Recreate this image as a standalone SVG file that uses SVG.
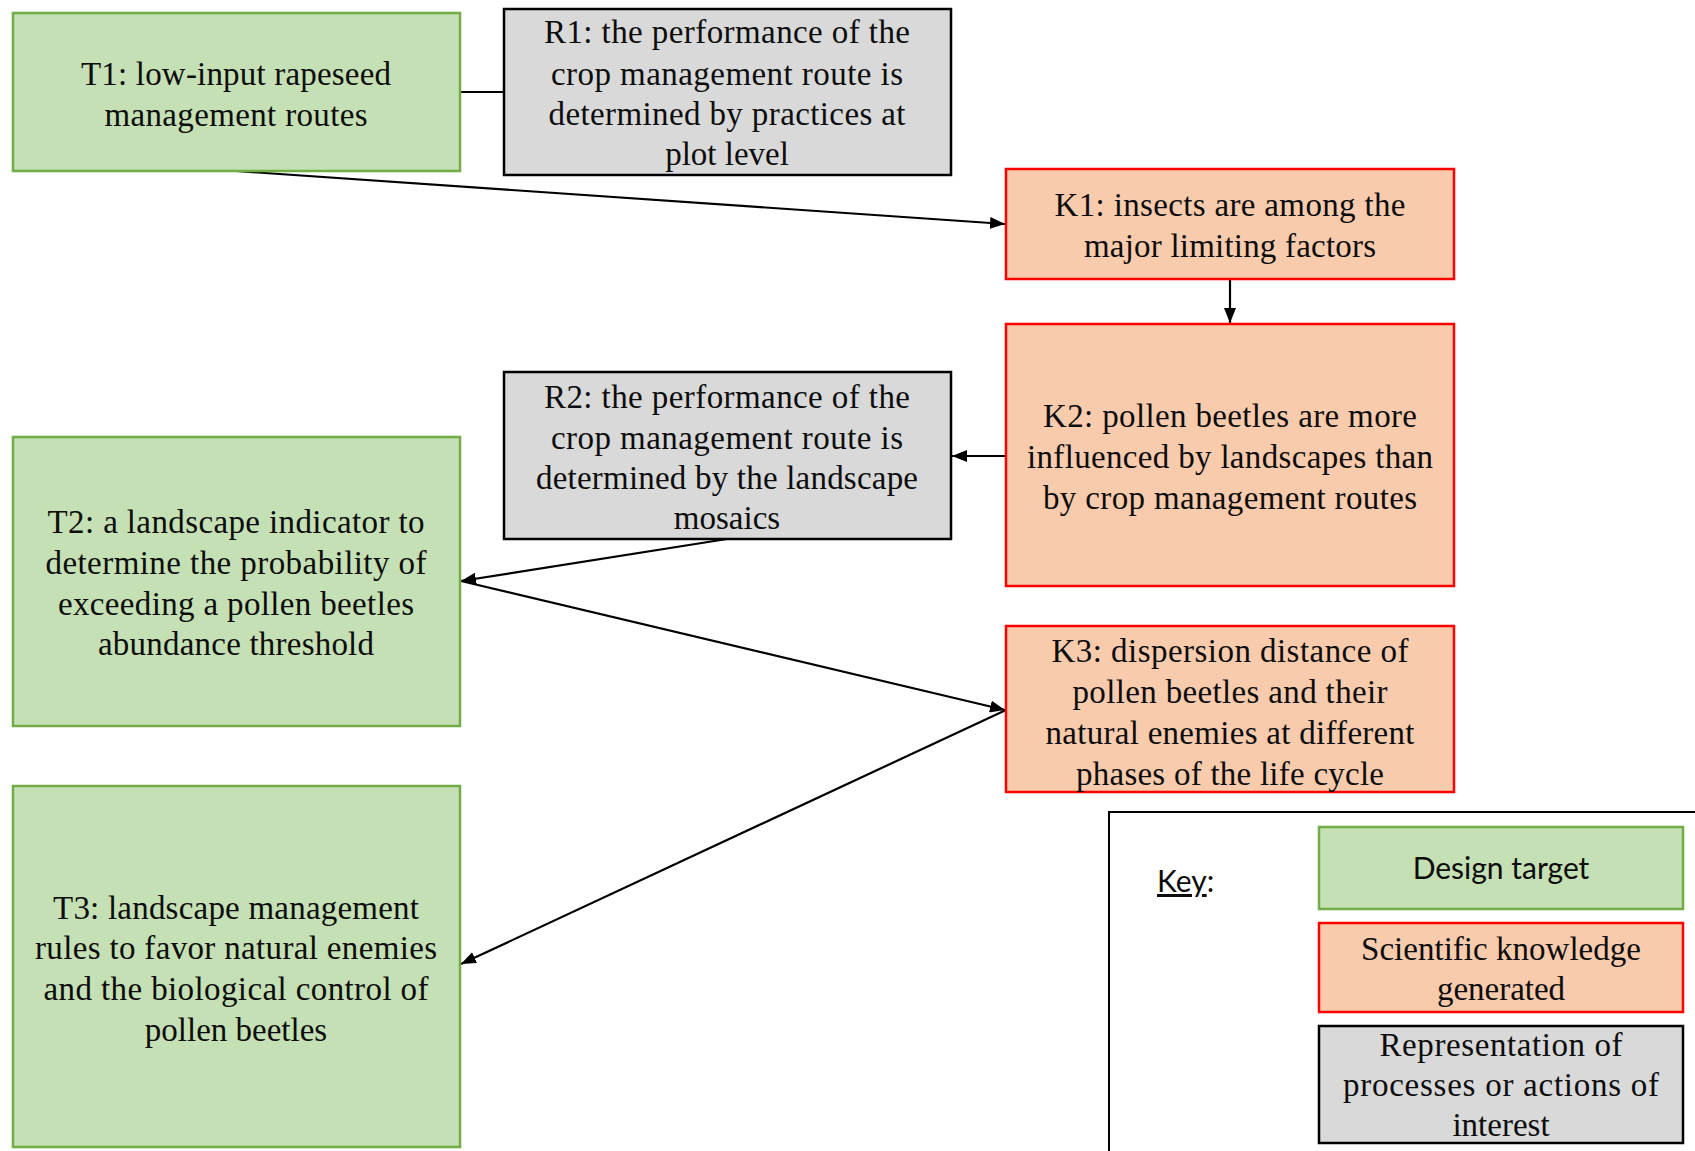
<svg xmlns="http://www.w3.org/2000/svg" width="1695" height="1151" viewBox="0 0 1695 1151">
<style>
.t{fill:#C5E0B4;stroke:#70AD47;stroke-width:2.5}
.k{fill:#F8CBAD;stroke:#FF0000;stroke-width:2.5}
.r{fill:#D9D9D9;stroke:#000;stroke-width:2.5}
text{font-family:"Liberation Serif","Times New Roman",serif;font-size:33px;fill:#0d0d0d;text-anchor:middle}
.sans{font-family:Lato,"Liberation Sans",sans-serif;font-size:30px}
.c{stroke:#000;stroke-width:2.2;fill:none}
</style>
<defs>
<marker id="ah" viewBox="0 0 15 12" refX="15" refY="6" markerWidth="15" markerHeight="12" markerUnits="userSpaceOnUse" orient="auto">
<path d="M0,0 L15,6 L0,12 z" fill="#000"/>
</marker>
</defs>
<g id="connectors">
<line class="c" x1="460" y1="92" x2="504" y2="92"/>
<line class="c" x1="236" y1="171" x2="1005" y2="224" marker-end="url(#ah)"/>
<line class="c" x1="1230" y1="279" x2="1230" y2="323" marker-end="url(#ah)"/>
<line class="c" x1="1006" y1="456" x2="952" y2="456" marker-end="url(#ah)"/>
<line class="c" x1="727" y1="539" x2="461" y2="581" marker-end="url(#ah)"/>
<line class="c" x1="461" y1="581" x2="1005" y2="710" marker-end="url(#ah)"/>
<line class="c" x1="1006" y1="710" x2="461" y2="964" marker-end="url(#ah)"/>
</g>
<g id="T1">
<rect class="t" x="13" y="13" width="447" height="158"/>
<text x="236" y="85" textLength="310">T1: low-input rapeseed</text>
<text x="236" y="126" textLength="263">management  routes</text>
</g>
<g id="R1">
<rect class="r" x="504" y="9" width="447" height="166"/>
<text x="727" y="43" textLength="366">R1: the performance of the</text>
<text x="727" y="85" textLength="352">crop management route is</text>
<text x="727" y="125" textLength="357">determined by practices at</text>
<text x="727" y="165">plot level</text>
</g>
<g id="K1">
<rect class="k" x="1006" y="169" width="448" height="110"/>
<text x="1230" y="216" textLength="351">K1: insects are among the</text>
<text x="1230" y="257" textLength="292">major limiting factors</text>
</g>
<g id="K2">
<rect class="k" x="1006" y="324" width="448" height="262"/>
<text x="1230" y="427" textLength="374">K2: pollen beetles are more</text>
<text x="1230" y="468" textLength="406">influenced by landscapes than</text>
<text x="1230" y="509" textLength="374">by crop management routes</text>
</g>
<g id="R2">
<rect class="r" x="504" y="372" width="447" height="167"/>
<text x="727" y="408" textLength="366">R2: the performance of the</text>
<text x="727" y="449" textLength="352">crop management route is</text>
<text x="727" y="489" textLength="382">determined by the landscape</text>
<text x="727" y="529">mosaics</text>
</g>
<g id="T2">
<rect class="t" x="13" y="437" width="447" height="289"/>
<text x="236" y="533" textLength="377">T2: a landscape indicator to</text>
<text x="236" y="574" textLength="381">determine the probability of</text>
<text x="236" y="615" textLength="356">exceeding a pollen beetles</text>
<text x="236" y="655" textLength="276">abundance threshold</text>
</g>
<g id="K3">
<rect class="k" x="1006" y="626" width="448" height="166"/>
<text x="1230" y="662" textLength="357">K3: dispersion distance of</text>
<text x="1230" y="703" textLength="315">pollen beetles and their</text>
<text x="1230" y="744" textLength="369">natural enemies at different</text>
<text x="1230" y="785" textLength="308">phases of the life cycle</text>
</g>
<g id="T3">
<rect class="t" x="13" y="786" width="447" height="361"/>
<text x="236" y="919" textLength="366">T3: landscape management</text>
<text x="236" y="959" textLength="402">rules to favor natural enemies</text>
<text x="236" y="1000" textLength="385">and the biological control of</text>
<text x="236" y="1041">pollen beetles</text>
</g>
<g id="key">
<rect x="1109" y="812" width="700" height="400" fill="#fff" stroke="#000" stroke-width="2"/>
<text class="sans" x="1157" y="892" style="text-anchor:start"><tspan text-decoration="underline">Key</tspan>:</text>
<rect class="t" x="1319" y="827" width="364" height="82"/>
<text class="sans" x="1501" y="879">Design target</text>
<rect class="k" x="1319" y="923" width="364" height="89"/>
<text x="1501" y="960" textLength="280">Scientific  knowledge</text>
<text x="1501" y="1000">generated</text>
<rect class="r" x="1319" y="1026" width="364" height="117"/>
<text x="1501" y="1056" textLength="243">Representation  of</text>
<text x="1501" y="1096" textLength="316">processes  or actions  of</text>
<text x="1501" y="1136">interest</text>
</g>
</svg>
